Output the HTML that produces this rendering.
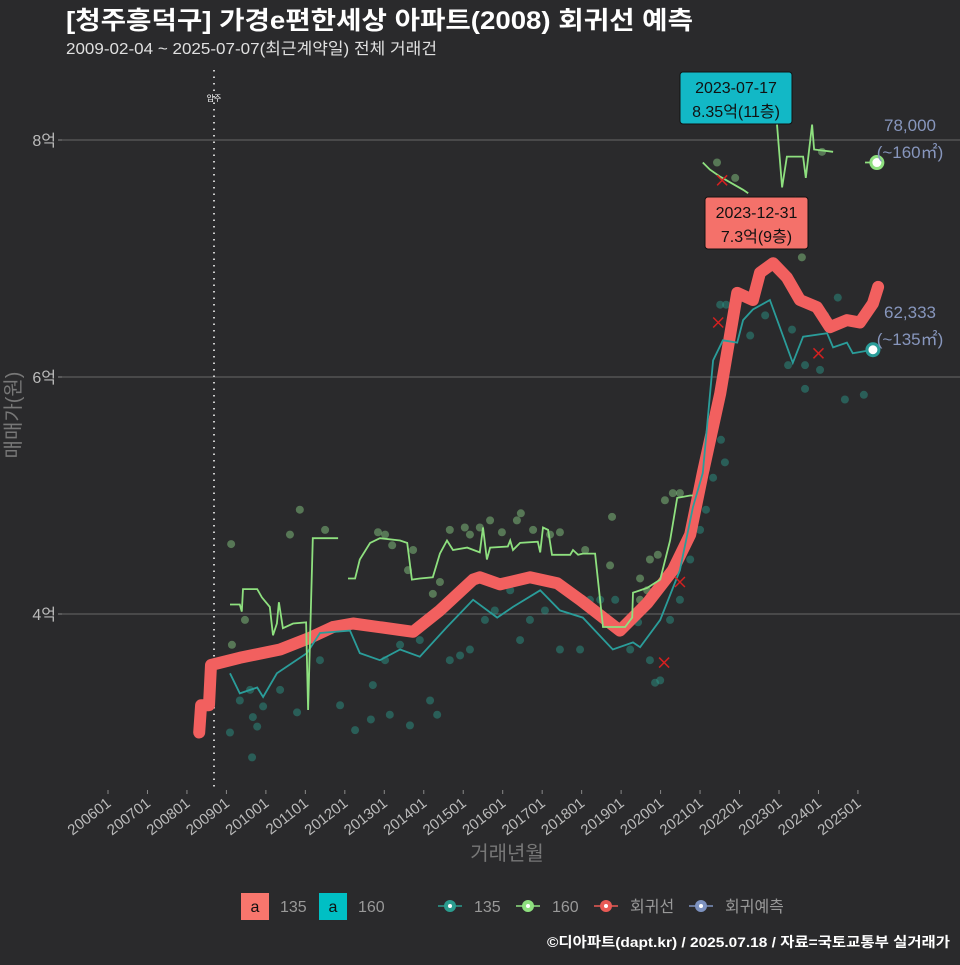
<!DOCTYPE html>
<html><head><meta charset="utf-8">
<style>
html,body{margin:0;padding:0;background:#2a2a2c;}
body{width:960px;height:960px;overflow:hidden;font-family:"Liberation Sans","Noto Sans CJK KR",sans-serif;}
svg text{font-family:"Liberation Sans","Noto Sans CJK KR",sans-serif;}
</style></head>
<body>
<svg id="chart" width="960" height="960" viewBox="0 0 960 960" xmlns="http://www.w3.org/2000/svg">
<rect x="0" y="0" width="960" height="960" fill="#2a2a2c"/>
<text x="66" y="29" fill="#ffffff" font-size="25" font-weight="bold" textLength="627" lengthAdjust="spacingAndGlyphs">[청주흥덕구] 가경e편한세상 아파트(2008) 회귀선 예측</text>
<text x="66" y="54" fill="#e0e0e0" font-size="16" textLength="371" lengthAdjust="spacingAndGlyphs">2009-02-04 ~ 2025-07-07(최근계약일) 전체 거래건</text>
<g id="grid"></g>
<g id="yaxis"></g>
<g id="xaxis"></g>
<line x1="214" y1="70" x2="214" y2="790" stroke="#cccccc" stroke-width="2" stroke-dasharray="1.5,5"/>
<text x="214" y="101" fill="#ffffff" font-size="8" text-anchor="middle">입주</text>
<g id="marks"></g>
<text x="20" y="415" fill="#777777" font-size="20" text-anchor="middle" transform="rotate(-90 20 415)">매매가(원)</text>
<text x="507" y="860" fill="#777777" font-size="20" text-anchor="middle">거래년월</text>
<g id="legend"></g>
<text x="950" y="947" fill="#ffffff" font-size="14" font-weight="bold" text-anchor="end" textLength="403" lengthAdjust="spacingAndGlyphs">©디아파트(dapt.kr) / 2025.07.18 / 자료=국토교통부 실거래가</text>
</svg>
<script>
// ---- data ----
const yTicks = [4, 6, 8];
const yTickLabels = ['4억', '6억', '8억'];
const xTickYears = [2006,2007,2008,2009,2010,2011,2012,2013,2014,2015,2016,2017,2018,2019,2020,2021,2022,2023,2024,2025];
const xTickLabels = ['200601','200701','200801','200901','201001','201101','201201','201301','201401','201501','201601','201701','201801','201901','202001','202101','202201','202301','202401','202501'];
const regT = [2008.31,2008.36,2008.56,2008.61,2009.34,2010.36,2011.12,2011.70,2012.21,2013.73,2014.41,2015.25,2015.42,2015.93,2016.69,2017.38,2017.96,2018.97,2019.66,2020.31,2020.75,2021.07,2021.51,2021.94,2022.34,2022.52,2022.85,2023.20,2023.53,2023.96,2024.29,2024.72,2025.05,2025.38,2025.51];
const regV = [3.00,3.23,3.23,3.57,3.63,3.70,3.80,3.89,3.92,3.85,4.03,4.29,4.31,4.25,4.31,4.26,4.12,3.86,4.09,4.37,4.67,5.19,5.86,6.71,6.65,6.88,6.96,6.84,6.65,6.59,6.42,6.48,6.46,6.62,6.76];
const s135T = [2009.09,2009.34,2009.78,2009.93,2010.28,2011.04,2011.37,2012.13,2012.38,2012.89,2013.40,2013.90,2014.59,2015.25,2015.86,2016.26,2016.95,2017.45,2018.03,2018.79,2019.30,2019.48,2019.99,2020.49,2020.82,2021.07,2021.33,2021.58,2021.94,2022.09,2022.34,2022.77,2023.35,2023.61,2024.22,2024.37,2024.72,2024.87,2025.38];
const s135V = [3.50,3.33,3.38,3.30,3.50,3.67,3.84,3.86,3.67,3.61,3.70,3.64,3.89,4.12,3.97,4.06,4.20,4.03,3.97,3.70,3.76,3.72,3.95,4.37,4.90,5.19,6.14,6.31,6.29,6.48,6.57,6.65,6.12,6.34,6.37,6.25,6.29,6.20,6.23];
const s160Seg = [0,0,0,0,0,0,0,0,0,0,0,0,0,0,0,0, 1,1,1,1,1,1,1,1,1,1,1,1,1,1,1,1,1,1,1,1,1,1,1,1,1,1,1,1,1,1,1,1,1,1,1,1,1,1,1,1,1,1,1,1, 2,2,2,2,2, 3,3,3,3,3,3,3,3, 4,4];
const s160T = [2009.09,2009.34,2009.39,2009.42,2009.78,2009.90,2010.10,2010.18,2010.28,2010.33,2010.43,2010.69,2011.02,2011.07,2011.19,2011.83,
 2012.08,2012.26,2012.38,2012.64,2012.89,2013.40,2013.58,2013.70,2013.90,2014.23,2014.41,2014.59,2014.74,2015.10,2015.42,2015.50,2015.60,2015.68,2016.13,2016.19,2016.26,2016.44,2016.89,2016.95,2017.02,2017.15,2017.25,2017.71,2017.78,2017.91,2018.03,2018.34,2018.54,2019.10,2019.28,2019.30,2019.66,2019.99,2020.24,2020.42,2020.75,2020.80,2020.81,2020.82,
 2021.07,2021.25,2021.51,2022.09,2022.22,
 2022.95,2023.08,2023.20,2023.61,2023.68,2023.84,2023.89,2024.37,
 2025.18,2025.48];
const s160V = [4.08,4.08,4.02,4.21,4.21,4.14,4.06,3.82,3.92,4.10,3.88,3.92,3.93,3.19,4.64,4.64,
 4.30,4.30,4.46,4.60,4.64,4.62,4.60,4.29,4.30,4.31,4.51,4.62,4.54,4.56,4.52,4.73,4.46,4.56,4.57,4.62,4.54,4.60,4.61,4.52,4.73,4.71,4.50,4.50,4.54,4.50,4.51,4.51,3.89,3.89,3.97,4.18,4.22,4.29,4.62,4.98,5.00,5.00,5.00,5.00,
 7.81,7.75,7.69,7.58,7.55,
 8.13,7.60,7.86,7.86,7.68,8.13,7.92,7.90,
 7.81,7.81];
const dot135T = [2009.09,2009.67,2009.65,2009.34,2009.60,2009.93,2009.78,2010.36,2010.79,2010.99,2011.37,2011.88,2012.26,2012.71,2013.02,2012.66,2013.14,2013.40,2013.65,2013.90,2014.34,2014.16,2014.66,2014.92,2015.17,2015.55,2015.80,2016.19,2016.44,2016.69,2017.07,2017.45,2017.96,2018.21,2018.47,2018.85,2019.23,2019.43,2019.73,2019.99,2019.86,2020.24,2020.49,2020.75,2021.00,2021.15,2021.33,2021.53,2021.63,2021.15,2021.51,2021.66,2022.27,2022.65,2023.33,2023.23,2023.66,2024.17,2024.04,2023.66,2024.67,2025.15,2024.49];
const dot135V = [3.00,3.13,2.79,3.27,3.36,3.22,3.05,3.36,3.17,3.78,3.61,3.23,3.02,3.40,3.61,3.11,3.15,3.74,3.06,3.78,3.15,3.27,3.61,3.65,3.70,3.95,4.03,4.20,3.78,3.95,4.03,3.70,3.70,4.12,4.12,4.12,3.70,3.93,3.61,3.44,3.42,3.95,4.12,4.46,4.71,4.88,5.15,5.47,5.28,5.22,6.61,6.61,6.35,6.52,6.40,6.10,6.10,6.52,6.06,5.90,5.81,5.85,6.67];
const dot160T = [2009.12,2010.61,2009.14,2009.47,2010.86,2011.50,2012.84,2013.02,2013.20,2013.73,2013.60,2014.23,2014.41,2014.66,2015.04,2015.17,2015.42,2015.68,2015.98,2016.36,2016.46,2016.77,2017.20,2017.45,2018.09,2018.77,2018.72,2017.63,2019.48,2019.66,2019.73,2019.93,2020.11,2020.31,2020.49,2019.48,2021.43,2021.89,2022.52,2023.58,2022.98,2024.09,2023.41];
const dot160V = [4.59,4.67,3.74,3.95,4.88,4.71,4.69,4.67,4.58,4.54,4.37,4.17,4.27,4.71,4.73,4.67,4.73,4.79,4.69,4.79,4.85,4.71,4.67,4.69,4.54,4.82,4.41,4.20,4.30,4.20,4.46,4.50,4.96,5.02,5.02,4.12,7.81,7.68,7.28,7.01,8.36,7.90,7.49];
const cancelT = [2021.56,2021.46,2024.00,2020.09,2020.49];
const cancelV = [7.66,6.46,6.20,3.59,4.27];

// ---- scales ----
const X = t => 108 + (t - 2006) * 39.47;
const Y = v => 614 - (v - 4) * 118.5;
const NS = 'http://www.w3.org/2000/svg';
function mk(tag, attrs, parent) {
  const e = document.createElementNS(NS, tag);
  for (const k in attrs) e.setAttribute(k, attrs[k]);
  parent.appendChild(e);
  return e;
}
const grid = document.getElementById('grid');
const yax = document.getElementById('yaxis');
const xax = document.getElementById('xaxis');
const marks = document.getElementById('marks');
const legend = document.getElementById('legend');

yTicks.forEach((v, i) => {
  const gl = mk('line', {x1: 62, x2: 960, y1: Y(v), y2: Y(v), stroke: '#5c5c5c', 'stroke-width': 1.2}, grid);
  
  
  const tk = mk('line', {x1: 58, x2: 62, y1: Y(v), y2: Y(v), stroke: '#888', 'stroke-width': 1}, yax);
  
  
  const tx = mk('text', {x: 56, y: Y(v) + 6, fill: '#bbbbbb', 'font-size': 16, 'text-anchor': 'end'}, yax);
  tx.textContent = yTickLabels[i];
  
  
});
xTickYears.forEach((yr, i) => {
  const x = X(yr);
  const tk = mk('line', {x1: x, x2: x, y1: 790, y2: 794, stroke: '#888', 'stroke-width': 1}, xax);
  
  
  const tx = mk('text', {x: x + 4, y: 805, fill: '#bbbbbb', 'font-size': 15, 'text-anchor': 'end', transform: `rotate(-38 ${x + 4} 805)`}, xax);
  tx.textContent = xTickLabels[i];
  
  
});

// scatter dots
dot135T.forEach((t, i) => {
  const c = mk('circle', {cx: X(t), cy: Y(dot135V[i]), r: 4, fill: '#2a9d8f', 'fill-opacity': 0.45}, marks);
  
  
});
dot160T.forEach((t, i) => {
  const c = mk('circle', {cx: X(t), cy: Y(dot160V[i]), r: 4, fill: '#8fd48a', 'fill-opacity': 0.45}, marks);
  
  
});

// regression line
const regPath = mk('path', {d: regT.map((t, i) => (i ? 'L' : 'M') + X(t).toFixed(1) + ',' + Y(regV[i]).toFixed(1)).join(''), fill: 'none', stroke: '#f2605f', 'stroke-width': 12, 'stroke-linejoin': 'round', 'stroke-linecap': 'round'}, marks);



// 135 line
const p135 = mk('path', {d: s135T.map((t, i) => (i ? 'L' : 'M') + X(t).toFixed(1) + ',' + Y(s135V[i]).toFixed(1)).join(''), fill: 'none', stroke: '#2a9d9a', 'stroke-width': 1.8}, marks);



// 160 line (segments)
let d160 = '';
s160T.forEach((t, i) => {
  const newSeg = i === 0 || s160Seg[i] !== s160Seg[i - 1];
  d160 += (newSeg ? 'M' : 'L') + X(t).toFixed(1) + ',' + Y(s160V[i]).toFixed(1);
});
const p160 = mk('path', {d: d160, fill: 'none', stroke: '#8ee07f', 'stroke-width': 1.8}, marks);



// cancelled markers
cancelT.forEach((t, i) => {
  const x = X(t), y = Y(cancelV[i]);
  const g = mk('path', {d: `M${x-5},${y-5}L${x+5},${y+5}M${x-5},${y+5}L${x+5},${y-5}`, stroke: '#d42020', 'stroke-width': 1.5}, marks);
  
  
});

// endpoints
const e160 = mk('circle', {cx: X(s160T[s160T.length - 1]), cy: Y(s160V[s160V.length - 1]), r: 6, fill: '#ffffff', stroke: '#8ee07f', 'stroke-width': 3}, marks);


const e135 = mk('circle', {cx: X(s135T[s135T.length - 1]), cy: Y(s135V[s135V.length - 1]), r: 6, fill: '#ffffff', stroke: '#2a9d9a', 'stroke-width': 3}, marks);



// right labels
[['78,000', 131], ['(~160㎡)', 158], ['62,333', 318], ['(~135㎡)', 345]].forEach(([s, y]) => {
  const t = mk('text', {x: 910, y: y, fill: '#8796bd', 'font-size': 17, 'text-anchor': 'middle'}, marks);
  t.textContent = s;
  
  
});

// annotation boxes
function box(x, y, w, h, fill, l1, l2, name) {
  const r = mk('rect', {x: x, y: y, width: w, height: h, rx: 3, fill: fill, stroke: '#111', 'stroke-width': 1}, marks);
  
  
  const a = mk('text', {x: x + w / 2, y: y + 21, fill: '#111', 'font-size': 16, 'text-anchor': 'middle'}, marks);
  a.textContent = l1;
  
  
  const b = mk('text', {x: x + w / 2, y: y + 45, fill: '#111', 'font-size': 16, 'text-anchor': 'middle'}, marks);
  b.textContent = l2;
  
  
}
box(680, 72, 112, 52, '#12b8c6', '2023-07-17', '8.35억(11층)', 'max-annotation-160');
box(705, 197, 103, 52, '#f4716a', '2023-12-31', '7.3억(9층)', 'max-annotation-135');

// legend
function lbox(x, fill, label, name) {
  const r = mk('rect', {x: x, y: 893, width: 28, height: 27, fill: fill}, legend);
  
  
  const a = mk('text', {x: x + 14, y: 912, fill: '#111', 'font-size': 16, 'text-anchor': 'middle'}, legend);
  a.textContent = 'a';
  
  
  const t = mk('text', {x: x + 39, y: 912, fill: '#999', 'font-size': 16}, legend);
  t.textContent = label;
  
  
}
lbox(241, '#f8766d', '135', 'legend-box-135');
lbox(319, '#00bfc4', '160', 'legend-box-160');
function lline(x, color, label, name) {
  const l = mk('line', {x1: x - 12, x2: x + 12, y1: 906, y2: 906, stroke: color, 'stroke-width': 1.5}, legend);
  
  
  const c = mk('circle', {cx: x, cy: 906, r: 6, fill: color}, legend);
  
  
  const d = mk('circle', {cx: x, cy: 906, r: 2, fill: '#ffffff'}, legend);
  
  
  const t = mk('text', {x: x + 24, y: 912, fill: '#999', 'font-size': 16}, legend);
  t.textContent = label;
  
  
}
lline(450, '#2a9d8f', '135', 'legend-line-135');
lline(528, '#8ee07f', '160', 'legend-line-160');
lline(606, '#e95a55', '회귀선', 'legend-regression');
lline(701, '#7d92c0', '회귀예측', 'legend-prediction');
</script>
</body></html>
